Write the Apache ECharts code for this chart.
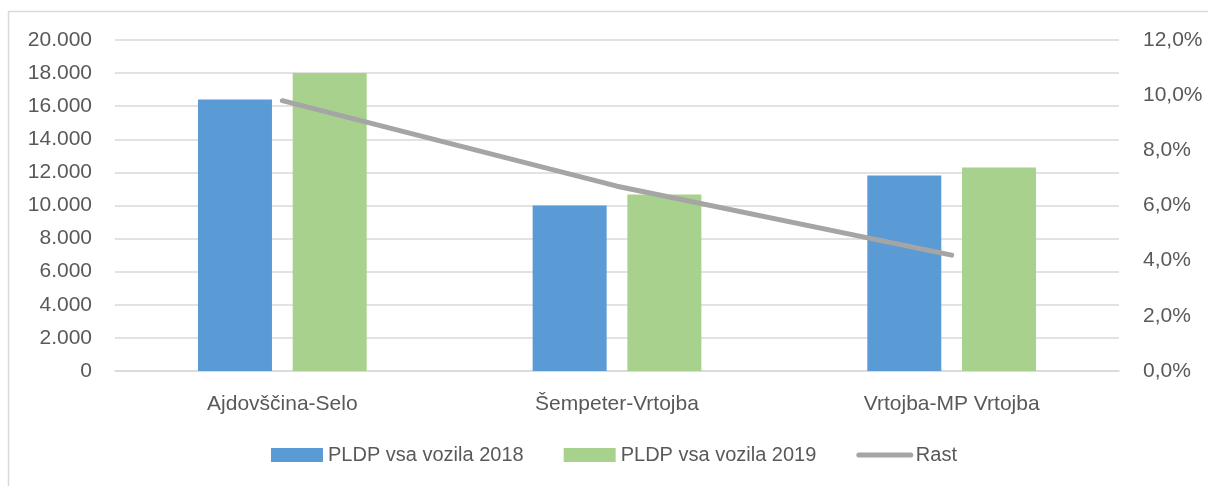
<!DOCTYPE html>
<html>
<head>
<meta charset="utf-8">
<script src="https://cdn.jsdelivr.net/npm/echarts@6/dist/echarts.min.js"></script>
<style>
html, body { margin: 0; padding: 0; background: #fff; }
#main { width: 1208px; height: 486px; }
</style>
</head>
<body>
<div id="main"></div>
<script>
const categories = ['Ajdovščina-Selo', 'Šempeter-Vrtojba', 'Vrtojba-MP Vrtojba'];
const pldp2018 = [16400, 10000, 11810];
const pldp2019 = [18000, 10660, 12300];
const rast = [9.8, 6.7, 4.2];

const leftTicks = { min: 0, max: 20000, interval: 2000 };
const rightTicks = { min: 0, max: 12, interval: 2 };

const textColor = '#595959';
const gridColor = '#d9d9d9';
const font = 'Liberation Sans, Arial, sans-serif';

function thousands(v) {
  return String(v).replace(/\B(?=(\d{3})+(?!\d))/g, '.');
}

const chart = echarts.init(document.getElementById('main'));
chart.setOption({
  animation: false,
  textStyle: { fontFamily: font },
  graphic: [{
    type: 'rect',
    shape: { x: 8.5, y: 11.5, width: 1400, height: 700 },
    style: { fill: 'none', stroke: gridColor, lineWidth: 1.5 },
    silent: true
  }],
  grid: { left: 115, right: 89, top: 40, bottom: 115 },
  legend: {
    left: 266,
    top: 440,
    itemWidth: 52,
    itemHeight: 14,
    itemGap: 40,
    textStyle: { color: textColor, fontSize: 20, fontFamily: font },
    data: [
      { name: 'PLDP vsa vozila 2018', icon: 'rect' },
      { name: 'PLDP vsa vozila 2019', icon: 'rect' },
      { name: 'Rast', itemStyle: { opacity: 0 }, lineStyle: { width: 5, cap: 'round', color: '#a5a5a5' } }
    ]
  },
  xAxis: {
    type: 'category',
    data: categories,
    axisTick: { show: false },
    axisLine: { lineStyle: { color: gridColor, width: 1.5 } },
    axisLabel: { color: textColor, fontSize: 21, margin: 23 }
  },
  yAxis: [{
    type: 'value',
    min: leftTicks.min,
    max: leftTicks.max,
    interval: leftTicks.interval,
    axisLabel: { color: textColor, fontSize: 21, margin: 23, formatter: thousands },
    splitLine: { lineStyle: { color: gridColor, width: 1.5 } },
    axisLine: { show: false },
    axisTick: { show: false }
  }, {
    type: 'value',
    min: rightTicks.min,
    max: rightTicks.max,
    interval: rightTicks.interval,
    position: 'right',
    axisLabel: {
      color: textColor, fontSize: 21, margin: 24,
      formatter: v => v.toFixed(1).replace('.', ',') + '%'
    },
    splitLine: { show: false },
    axisLine: { show: false },
    axisTick: { show: false }
  }],
  series: [{
    name: 'PLDP vsa vozila 2018',
    type: 'bar',
    data: pldp2018,
    barWidth: 74,
    barGap: '28%',
    itemStyle: { color: '#5b9bd5' }
  }, {
    name: 'PLDP vsa vozila 2019',
    type: 'bar',
    data: pldp2019,
    barWidth: 74,
    itemStyle: { color: '#a9d18e' }
  }, {
    name: 'Rast',
    type: 'line',
    yAxisIndex: 1,
    data: rast,
    symbol: 'none',
    z: 5,
    lineStyle: { color: '#a5a5a5', width: 5, cap: 'round' },
    itemStyle: { color: '#a5a5a5' }
  }]
});
</script>
</body>
</html>
